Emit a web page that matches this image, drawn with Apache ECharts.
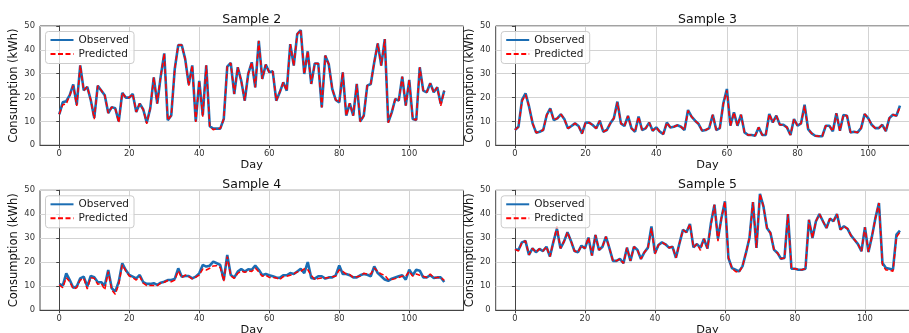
<!DOCTYPE html>
<html>
<head>
<meta charset="utf-8">
<title>Observed vs predicted consumption</title>
<script src="https://cdn.jsdelivr.net/npm/echarts@6.0.0/dist/echarts.min.js"></script>
<style>
  html, body { margin: 0; padding: 0; background: #fff; }
  #chart { width: 909px; height: 333px; }
</style>
</head>
<body>
<div id="chart"></div>
<script>
const titles = ['Sample 2', 'Sample 3', 'Sample 4', 'Sample 5']
const seriesNames = ['Observed', 'Predicted']
const xTicks = [0, 20, 40, 60, 80, 100]
const yTicks = [0, 10, 20, 30, 40, 50]

const sample2Observed = [
  13, 18, 18.5, 21, 25.5, 17, 33.5, 23, 24.5, 19,
  11.5, 25, 23, 21, 13.5, 16, 15.5, 10, 22, 20,
  20, 21.5, 14, 17.5, 15, 9.5, 15.5, 28.5, 17.5, 29,
  38.5, 10.5, 12.5, 32, 42, 42, 36, 25.5, 33.5, 10,
  27, 12.5, 33.5, 8, 7, 7, 7, 11, 33, 34.5,
  21.5, 32.7, 27, 18.7, 30, 34.8, 24.3, 43.8, 27.8, 33.8,
  30.6, 31, 18.7, 22.2, 26.4, 22.9, 42.4, 33.4, 46.6, 48.3,
  29.9, 39.4, 25.7, 34.3, 34.3, 15.9, 37.6, 34, 23.6, 19,
  18, 30.6, 12.4, 17.6, 12.4, 25.7, 10, 12.4, 25, 25.7,
  34.8, 42.7, 33.4, 44.5, 9.6, 13.8, 19.4, 18.7, 28.8, 16.6,
  27.4, 11, 10.6, 32.7, 22.9, 22.2, 26, 22.2, 24.3, 17.3,
  22.9
]
const sample2Predicted = [
  13, 17, 17.3, 21, 25, 16.5, 33.5, 23, 24.5, 19,
  11, 25, 23, 21, 13.5, 16, 15.5, 9.5, 22, 20,
  20, 21.5, 14, 17.5, 15, 9, 15.5, 28.5, 17.5, 29,
  38.5, 10.5, 12.5, 32, 42, 42, 36, 25, 33.5, 9.8,
  27, 12, 33.5, 8, 6.5, 7, 7, 11, 33, 34.5,
  21.5, 32.7, 27, 18.7, 30, 34.8, 24.3, 43.8, 27.8, 33.8,
  30.6, 31, 18.7, 22.2, 26.4, 22.9, 42.4, 33.4, 46.6, 48.3,
  29.9, 39.4, 25.7, 34.3, 34.3, 15.9, 37.6, 34, 23.6, 19,
  18, 30.6, 12.4, 17.6, 12.4, 25.7, 9.8, 12.4, 25, 25.7,
  34.8, 42.7, 33.4, 44.5, 9.5, 13.8, 19.4, 18.7, 28.8, 16.6,
  27.4, 11, 10.6, 32.7, 22.9, 22.2, 26, 22.2, 24.3, 16.5,
  22.9
]

const sample3Observed = [
  6.4, 7.8, 19, 21.8, 16.2, 9.2, 5.3, 5.7, 6.4, 12.7,
  15.5, 10.6, 11.3, 13, 10.9, 7.1, 8.1, 9.2, 8.1, 5,
  9.5, 9.5, 8.5, 7.1, 10.3, 5.7, 6.4, 9.2, 11.3, 18.3,
  9.2, 8.1, 12.3, 7.1, 5.7, 12, 6.4, 7.1, 9.5, 6.1,
  7.5, 5.7, 4.7, 9.5, 7.5, 7.8, 8.4, 7.8, 6.4, 14.8,
  12, 10.3, 8.9, 6.1, 6.4, 7.2, 12.8, 6.4, 7.2, 17.6,
  23.6, 8.2, 13.8, 8.2, 12.8, 5.4, 4.3, 4.3, 4, 7.5,
  4.3, 4.3, 13.1, 9.6, 12.4, 8.6, 8.6, 7.5, 4.3, 11,
  8.2, 9.2, 17, 6.8, 5, 4, 3.8, 3.8, 8.2, 8.2,
  5.9, 13.4, 6.1, 12.7, 12.4, 5.4, 5.7, 5.4, 7.2, 13.1,
  11.4, 8.6, 7.2, 7.2, 8.6, 5.9, 11.4, 12.8, 12.4, 16.6
]
const sample3Predicted = [
  6.4, 7.8, 18.5, 21.2, 16.2, 9.2, 5.3, 5.7, 6.4, 12.7,
  15.2, 10.6, 11.3, 13, 10.9, 7.1, 8.1, 9.2, 8.1, 4.8,
  9.5, 9.5, 8.5, 7.1, 10.3, 5.7, 6.4, 9.2, 11.3, 18,
  9.2, 8.1, 12.3, 7.1, 5.7, 12, 6.4, 7.1, 9.5, 6.1,
  7.5, 5.7, 4.7, 9.5, 7.5, 7.8, 8.4, 7.8, 6.4, 14.5,
  12, 10.3, 8.9, 6.1, 6.4, 7.2, 12.8, 6.4, 7.2, 17.3,
  23, 8.2, 13.8, 8.2, 12.8, 5.4, 4.3, 4.3, 4, 7.5,
  4.3, 4.3, 13.1, 9.6, 12.4, 8.6, 8.6, 7.5, 4.3, 11,
  8.2, 9.2, 16.5, 6.8, 5, 4, 3.8, 3.8, 8.2, 8.2,
  5.9, 13.4, 6.1, 12.7, 12.4, 5.4, 5.7, 5.4, 7.2, 13.1,
  11.4, 8.6, 7.2, 7.2, 8.6, 5.9, 11.4, 12.8, 12.4, 16
]

const sample4Observed = [
  11, 10.3, 15.4, 12.6, 9.4, 9.9, 13.3, 14, 9.9, 14.3,
  13.8, 11.7, 11.7, 10.3, 16.8, 9.2, 7.8, 11.9, 19.6, 16.8,
  14.7, 14, 13.3, 14.7, 11.7, 11, 11, 11.3, 10.6, 11.5,
  11.9, 12.6, 12.6, 13.1, 17.5, 14, 14.3, 14.3, 13.3, 14,
  15.4, 18.9, 18.2, 18.6, 20.3, 19.6, 18.9, 12.6, 23.1, 14.7,
  13.6, 16.1, 17.2, 16.1, 17.1, 16.9, 18.6, 16.9, 14.6, 15.1,
  14.6, 14.2, 13.7, 13.5, 14.6, 14.6, 15.5, 15.1, 16.2, 17.3,
  15.5, 20.1, 13.5, 13.2, 14.2, 14.2, 13.2, 13.7, 13.7, 14.6,
  18.7, 15.1, 15.1, 14.6, 13.7, 13.7, 14.6, 15.1, 14.8, 14.2,
  18.3, 15.5, 14.2, 12.8, 12.3, 13.2, 13.7, 14.2, 14.6, 12.8,
  16.9, 14.6, 16.9, 16.5, 13.7, 13.7, 14.6, 13.5, 13.7, 13.7,
  11.8
]
const sample4Predicted = [
  10.6, 9.4, 13.6, 11.9, 8.9, 9.4, 12.6, 13.3, 8.9, 13.6,
  13.3, 10.8, 11.3, 8.5, 16.1, 8.5, 6.7, 10.8, 18.9, 16.4,
  14.3, 13.6, 12.6, 14, 11.3, 10.3, 10.3, 10.3, 10.3, 11.3,
  11.7, 12.4, 11.9, 12.6, 16.4, 13.6, 14.7, 14, 13.1, 13.8,
  14.7, 17.2, 16.8, 17.5, 18.5, 18.6, 17.8, 12.2, 22.4, 14.4,
  13.3, 15.4, 16.4, 15.8, 16.4, 16.2, 17.6, 16, 14.2, 14.6,
  13.7, 13.7, 13.5, 12.8, 14, 14.2, 14.6, 15.1, 16, 16.2,
  17.3, 16.9, 14.6, 12.8, 13.2, 13.5, 13.5, 13.7, 14, 14.2,
  16.9, 16.2, 15.1, 14.9, 13.7, 14, 14.2, 15.4, 15.1, 15.1,
  17.6, 16.2, 15.1, 14.6, 12.8, 12.8, 13.2, 13.7, 14.2, 14.2,
  16.2, 14.2, 15.1, 14.6, 14.2, 13.7, 15.1, 13.5, 13.7, 13.7,
  12.5
]

const sample5Observed = [
  25.4, 25.1, 28.3, 28.9, 23.1, 25.8, 24.2, 25.6, 24.7, 26.5,
  22.4, 28.6, 33.9, 25.8, 28.6, 32.5, 28.9, 24.7, 24.2, 26.9,
  25.8, 30.3, 22.8, 31.4, 25.1, 26.5, 30.7, 25.8, 20.6, 20.6,
  21.4, 19.6, 26.1, 20.6, 26.5, 25.1, 21.4, 24.2, 26.1, 34.9,
  23.8, 27.2, 28.3, 27.5, 26.1, 26.5, 21.9, 27.9, 33.5, 32.5,
  36, 26.2, 27.6, 26, 29.8, 25.7, 36.4, 44, 29.8, 38.5,
  45.4, 21.8, 17.6, 16.9, 16.2, 18.3, 23.9, 30.1, 45.1, 26,
  48.5, 43.3, 34.3, 32.2, 25.3, 23.9, 21.5, 21.8, 40.1, 17.3,
  17.3, 16.9, 16.9, 17.3, 37.7, 30.1, 37.1, 40.1, 37.1, 34.3,
  38.2, 37.1, 40.1, 33.6, 35, 34, 31.2, 29.4, 27.6, 24.6,
  34.6, 24.3, 30.8, 38.5, 44.7, 19.7, 17.6, 17.3, 16.9, 31.5,
  33.2
]
const sample5Predicted = [
  25.4, 24.7, 28.3, 28.9, 23.1, 25.8, 24.2, 25.6, 24.7, 26.5,
  22.4, 28.6, 35.1, 25.8, 28.6, 32.5, 28.9, 24.7, 24.2, 26.9,
  25.8, 30.3, 22.8, 31.4, 25.1, 26.5, 30.7, 25.8, 20.6, 20.6,
  21.4, 19.6, 26.1, 20.6, 26.5, 25.1, 21.4, 24.2, 26.1, 34.2,
  23.5, 27.2, 28.3, 27.5, 26.1, 26.5, 21.9, 27.9, 33.5, 32.5,
  36, 26.2, 27.6, 25, 29.8, 25.7, 35.5, 44, 28.8, 38.5,
  45.4, 21.8, 17.6, 16.2, 15.8, 18.3, 23.9, 30.1, 45.1, 26,
  48.5, 43.3, 34.3, 32.2, 25.3, 23.9, 21.5, 21.8, 40.1, 17.3,
  17.3, 16.9, 16.9, 17.3, 37.7, 30.1, 37.1, 40.1, 37.1, 34.3,
  38.2, 37.1, 40.1, 33.6, 35, 34, 31.2, 29.4, 27.6, 24.6,
  34.6, 24.3, 30.8, 38.5, 44.7, 18.9, 16.8, 16.8, 16.2, 30.5,
  32.5
]

// layout of the 2x2 panels (px)
const plotWidth = 423.5
const panels = [
  { title: titles[0], obs: sample2Observed, pred: sample2Predicted, left: 40, top: 26, height: 119.3 },
  { title: titles[1], obs: sample3Observed, pred: sample3Predicted, left: 495.7, top: 26, height: 119.3 },
  { title: titles[2], obs: sample4Observed, pred: sample4Predicted, left: 40, top: 190.3, height: 120 },
  { title: titles[3], obs: sample5Observed, pred: sample5Predicted, left: 495.7, top: 190.3, height: 120 },
]

const font = 'DejaVu Sans'
const spine = '#444'
const gridColor = '#d3d3d3'
const obsColor = '#1b6db3'
const predColor = '#ff0000'

const chart = echarts.init(document.getElementById('chart'), null, { renderer: 'canvas' })

const option = {
  animation: false,
  backgroundColor: '#fff',
  textStyle: { fontFamily: font },
  title: panels.map((p) => ({
    text: p.title,
    left: p.left + plotWidth / 2,
    top: p.top - 12.5,
    textAlign: 'center',
    padding: 0,
    textStyle: { fontFamily: font, fontSize: 12.5, fontWeight: 'normal', color: '#111' },
  })),
  legend: panels.map((p) => ({
    data: seriesNames,
    orient: 'vertical',
    left: p.left + 5.5,
    top: p.top + 5.5,
    itemWidth: 23,
    itemHeight: 12,
    itemGap: 3,
    itemTextGap: 6,
    padding: [3, 5, 4, 4],
    selectedMode: false,
    backgroundColor: 'rgba(255,255,255,0.8)',
    borderColor: '#cccccc',
    borderWidth: 1,
    borderRadius: 3,
    itemStyle: { opacity: 0 },
    textStyle: { fontFamily: font, fontSize: 10.5, color: '#222' },
  })),
  grid: panels.map((p) => ({
    left: p.left,
    top: p.top,
    width: plotWidth,
    height: p.height,
    show: true,
    borderColor: spine,
    borderWidth: 1,
    backgroundColor: 'transparent',
    containLabel: false,
    outerBoundsMode: 'none',
  })),
  xAxis: panels.map((p, i) => {
    const last = p.obs.length - 1
    return {
      type: 'value',
      gridIndex: i,
      min: -0.05 * last,
      max: last * 1.05,
      name: 'Day',
      nameLocation: 'middle',
      nameGap: 14,
      nameTextStyle: { fontFamily: font, fontSize: 11.3, color: '#111' },
      axisLine: { show: true, lineStyle: { color: spine, width: 1 } },
      axisTick: { show: true, length: 3, customValues: xTicks, lineStyle: { color: spine } },
      axisLabel: { customValues: xTicks, margin: 5, fontSize: 8.4, color: '#333', fontFamily: font },
      splitLine: { show: true, lineStyle: { color: gridColor, width: 1 } },
    }
  }),
  yAxis: panels.map((p, i) => ({
    type: 'value',
    gridIndex: i,
    min: yTicks[0],
    max: yTicks[yTicks.length - 1],
    interval: yTicks[1] - yTicks[0],
    name: 'Consumption (kWh)',
    nameLocation: 'middle',
    nameGap: 17,
    nameTextStyle: { fontFamily: font, fontSize: 11.5, color: '#111' },
    axisLine: { show: true, lineStyle: { color: spine, width: 1 } },
    axisTick: { show: true, length: 3, lineStyle: { color: spine } },
    axisLabel: { margin: 5, fontSize: 8.4, color: '#333', fontFamily: font },
    splitLine: { show: true, lineStyle: { color: gridColor, width: 1 } },
  })),
  series: panels.flatMap((p, i) => [
    {
      name: seriesNames[0],
      type: 'line',
      xAxisIndex: i,
      yAxisIndex: i,
      data: p.obs.map((v, d) => [d, v]),
      symbol: 'none',
      showSymbol: false,
      z: 2,
      lineStyle: { color: obsColor, width: 2.6 },
      itemStyle: { color: obsColor },
    },
    {
      name: seriesNames[1],
      type: 'line',
      xAxisIndex: i,
      yAxisIndex: i,
      data: p.pred.map((v, d) => [d, v]),
      symbol: 'none',
      showSymbol: false,
      z: 3,
      lineStyle: { color: predColor, width: 1.5, type: [5, 2.5] },
      itemStyle: { color: predColor },
    },
  ]),
}

chart.setOption(option)
</script>
</body>
</html>
